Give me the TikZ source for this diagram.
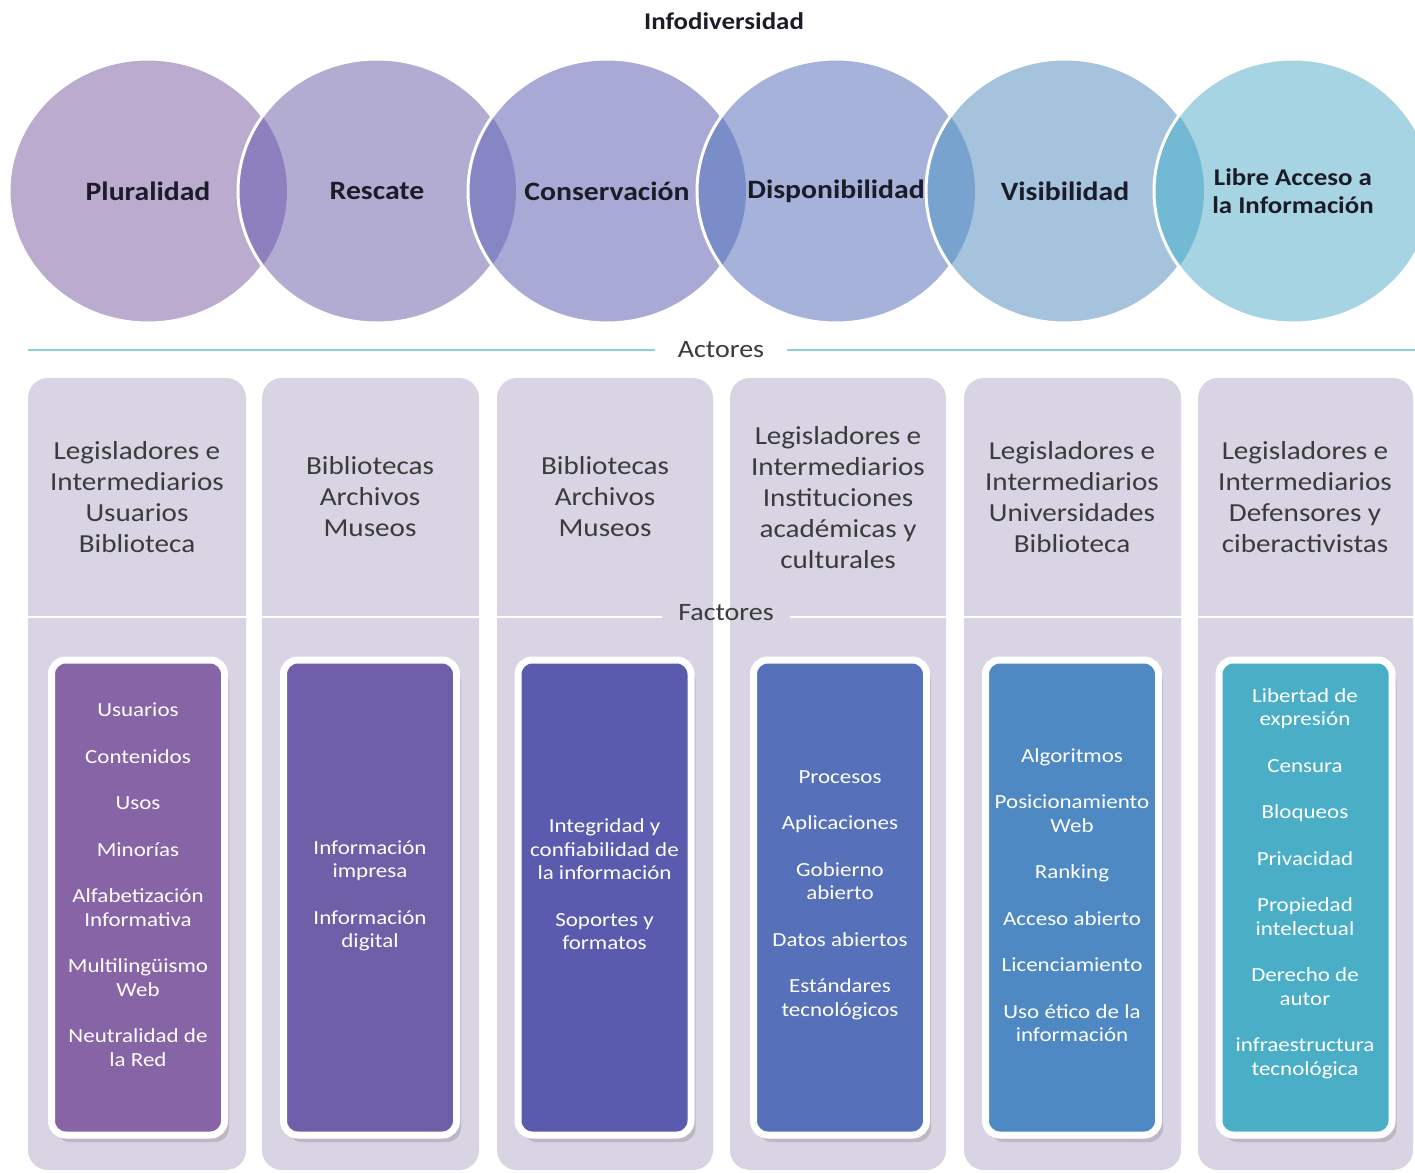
\documentclass[tikz,border=0pt]{standalone}
\usepackage{fontspec}
\setmainfont{Carlito}[FakeStretch=1.12]
\newfontfamily\boxfont{Carlito}[FakeStretch=1.15]
\usetikzlibrary{shadows}

\definecolor{ring1}{HTML}{BAABCF}
\definecolor{ring2}{HTML}{B2ACD3}
\definecolor{ring3}{HTML}{A9A9D6}
\definecolor{ring4}{HTML}{A6B2DA}
\definecolor{ring5}{HTML}{A6C3DE}
\definecolor{ring6}{HTML}{A6D4E2}
\definecolor{lap2}{HTML}{8E7FBE}
\definecolor{lap3}{HTML}{8686C5}
\definecolor{lap4}{HTML}{7A8DC9}
\definecolor{lap5}{HTML}{79A3CF}
\definecolor{lap6}{HTML}{72B9D3}
\definecolor{colbg}{HTML}{D8D4E4}
\definecolor{fact1}{HTML}{8764A6}
\definecolor{fact2}{HTML}{6F5EA8}
\definecolor{fact3}{HTML}{5A5BAF}
\definecolor{fact4}{HTML}{5671B9}
\definecolor{fact5}{HTML}{4E89C3}
\definecolor{fact6}{HTML}{4BAEC7}
\definecolor{guidecol}{HTML}{8CCFD8}
\definecolor{ink}{HTML}{1C1C28}
\definecolor{greyink}{HTML}{3B3B3B}

\tikzset{
  ringsize/.style={x radius=139, y radius=132},
  ringedge/.style={draw=white, line width=3pt},
  ringlabel/.style={font={\bfseries\fontsize{26.5}{31}\selectfont}, text=ink, align=center, inner sep=0pt},
  titlelabel/.style={font={\bfseries\fontsize{24}{28}\selectfont}, text=ink, inner sep=0pt},
  sectionlabel/.style={font={\fontsize{25}{30}\selectfont}, text=greyink, inner ysep=0pt},
  guide/.style={draw=guidecol, line width=1.2pt},
  sepline/.style={draw=white, line width=2.5pt},
  column/.style={fill=colbg, rounded corners=20pt},
  actortext/.style={font={\fontsize{26}{31}\selectfont}, text=greyink, align=center, inner sep=0pt},
  factbox/.style={draw=white, line width=7pt, rounded corners=14pt, minimum width=173pt, minimum height=475pt,
    drop shadow={shadow xshift=4.5pt, shadow yshift=-7pt, opacity=.25, fill=black!60}},
  facttext/.style={font={\boxfont\fontsize{20}{23.5}\selectfont}, text=white, align=center, inner sep=0pt}
}

\begin{document}
\begin{tikzpicture}[x=1pt,y=-1pt]
\useasboundingbox (0,0) rectangle (1415,1172);

%title
\node[titlelabel] (title) at (724,21) {Infodiversidad};

%centres of the circles
\coordinate (e1) at (148,191);
\coordinate (e2) at (377,191);
\coordinate (e3) at (607,191);
\coordinate (e4) at (836,191);
\coordinate (e5) at (1065,191);
\coordinate (e6) at (1293,191);

%circles and their overlaps
\fill[ring1] (e1) ellipse [ringsize];
\draw[ringedge] (e1) ellipse [ringsize];

\fill[ring2] (e2) ellipse [ringsize];
\begin{scope}
\clip (e1) ellipse [ringsize];
\fill[lap2] (e2) ellipse [ringsize];
\end{scope}
\draw[ringedge] (e2) ellipse [ringsize];

\fill[ring3] (e3) ellipse [ringsize];
\begin{scope}
\clip (e2) ellipse [ringsize];
\fill[lap3] (e3) ellipse [ringsize];
\end{scope}
\draw[ringedge] (e3) ellipse [ringsize];

\fill[ring4] (e4) ellipse [ringsize];
\begin{scope}
\clip (e3) ellipse [ringsize];
\fill[lap4] (e4) ellipse [ringsize];
\end{scope}
\draw[ringedge] (e4) ellipse [ringsize];

\fill[ring5] (e5) ellipse [ringsize];
\begin{scope}
\clip (e4) ellipse [ringsize];
\fill[lap5] (e5) ellipse [ringsize];
\end{scope}
\draw[ringedge] (e5) ellipse [ringsize];

\fill[ring6] (e6) ellipse [ringsize];
\begin{scope}
\clip (e5) ellipse [ringsize];
\fill[lap6] (e6) ellipse [ringsize];
\end{scope}
\draw[ringedge] (e6) ellipse [ringsize];

%labels of the circles
\node[ringlabel] (plur) at (e1) {Pluralidad};
\node[ringlabel] (resc) at (e2) {Rescate};
\node[ringlabel] (cons) at (e3) {Conservación};
\node[ringlabel] (disp) at (e4) {Disponibilidad};
\node[ringlabel] (visi) at (e5) {Visibilidad};
\node[ringlabel, font={\bfseries\fontsize{24}{28}\selectfont}] (libre) at (e6) {Libre Acceso a\\la Información};

%actores rule
\node[sectionlabel, inner xsep=22.5pt] (actores) at (721,350) {Actores};
\coordinate (actL) at (28,350);
\coordinate (actR) at (1415,350);
\draw[guide] (actL) -- (actores.west |- actL);
\draw[guide] (actores.east |- actR) -- (actR);

%columns
\fill[column] (28,378) rectangle (246,1170);
\fill[column] (262,378) rectangle (479,1170);
\fill[column] (497,378) rectangle (713,1170);
\fill[column] (730,378) rectangle (946,1170);
\fill[column] (964,378) rectangle (1181,1170);
\fill[column] (1198,378) rectangle (1413,1170);

%actors in each column
\node[actortext] (act1) at (137,497) {Legisladores e\\Intermediarios\\Usuarios\\Biblioteca};
\node[actortext] (act2) at (370,497) {Bibliotecas\\Archivos\\Museos};
\node[actortext] (act3) at (605,497) {Bibliotecas\\Archivos\\Museos};
\node[actortext] (act4) at (838,498) {Legisladores e\\Intermediarios\\Instituciones\\académicas y\\culturales};
\node[actortext] (act5) at (1072,497) {Legisladores e\\Intermediarios\\Universidades\\Biblioteca};
\node[actortext] (act6) at (1305,497) {Legisladores e\\Intermediarios\\Defensores y\\ciberactivistas};

%factores rule
\node[sectionlabel, inner xsep=16.5pt] (factores) at (726,613) {Factores};
\coordinate (sepL) at (28,617);
\coordinate (sepR) at (1413,617);
\draw[sepline] (sepL) -- (factores.west |- sepL);
\draw[sepline] (factores.east |- sepR) -- (sepR);

%factor boxes
\node[factbox, fill=fact1] (box1) at (138,897.5) {};
\node[factbox, fill=fact2] (box2) at (370,897.5) {};
\node[factbox, fill=fact3] (box3) at (604.5,897.5) {};
\node[factbox, fill=fact4] (box4) at (840,897.5) {};
\node[factbox, fill=fact5] (box5) at (1072,897.5) {};
\node[factbox, fill=fact6] (box6) at (1305.5,897.5) {};

%factors in each box
\node[facttext] (fac1) at (138,884.5) {Usuarios\\[23pt]Contenidos\\[23pt]Usos\\[23pt]Minorías\\[23pt]Alfabetización\\Informativa\\[23pt]Multilingüismo\\Web\\[23pt]Neutralidad de\\la Red};
\node[facttext] (fac2) at (370,896) {Información\\impresa\\[23pt]Información\\digital};
\node[facttext] (fac3) at (604.5,884.5) {Integridad y\\confiabilidad de\\la información\\[23pt]Soportes y\\formatos};
\node[facttext] (fac4) at (840,895) {Procesos\\[23pt]Aplicaciones\\[23pt]Gobierno\\abierto\\[23pt]Datos abiertos\\[23pt]Estándares\\tecnológicos};
\node[facttext] (fac5) at (1072,895) {Algoritmos\\[23pt]Posicionamiento\\Web\\[23pt]Ranking\\[23pt]Acceso abierto\\[23pt]Licenciamiento\\[23pt]Uso ético de la\\información};
\node[facttext] (fac6) at (1305,883.5) {Libertad de\\expresión\\[23pt]Censura\\[23pt]Bloqueos\\[23pt]Privacidad\\[23pt]Propiedad\\intelectual\\[23pt]Derecho de\\autor\\[23pt]infraestructura\\tecnológica};

\end{tikzpicture}
\end{document}
